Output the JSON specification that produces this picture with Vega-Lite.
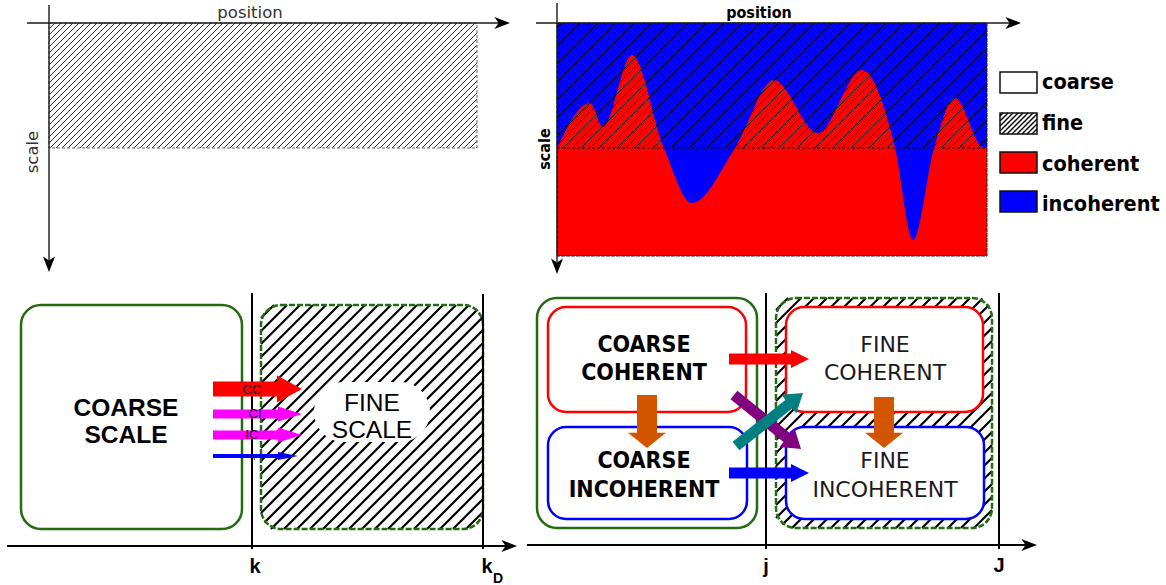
{
"$schema": "https://vega.github.io/schema/vega-lite/v6.json",
"width": 1166, "height": 585, "padding": 0, "autosize": "none",
"background": "white",
"config": {"view": {"stroke": null}},
"datasets": {
"curve": [{"x":557,"y":148},{"x":590,"y":103},{"x":603,"y":127},{"x":632,"y":55},{"x":664,"y":148},{"x":692,"y":203},{"x":735,"y":148},{"x":774,"y":80},{"x":818,"y":133},{"x":862,"y":70},{"x":895,"y":148},{"x":913,"y":240},{"x":934,"y":148},{"x":955,"y":98},{"x":984,"y":148},{"x":987,"y":148}],
"h1": [
{"x":49,"y":29,"x2":55,"y2":23},{"x":49,"y":35,"x2":61,"y2":23},{"x":49,"y":41,"x2":67,"y2":23},{"x":49,"y":47,"x2":73,"y2":23},{"x":49,"y":53,"x2":79,"y2":23},{"x":49,"y":59,"x2":85,"y2":23},{"x":49,"y":65,"x2":91,"y2":23},{"x":49,"y":71,"x2":97,"y2":23},{"x":49,"y":77,"x2":103,"y2":23},{"x":49,"y":83,"x2":109,"y2":23},{"x":49,"y":89,"x2":115,"y2":23},{"x":49,"y":95,"x2":121,"y2":23},{"x":49,"y":101,"x2":127,"y2":23},{"x":49,"y":107,"x2":133,"y2":23},{"x":49,"y":113,"x2":139,"y2":23},{"x":49,"y":119,"x2":145,"y2":23},{"x":49,"y":125,"x2":151,"y2":23},{"x":49,"y":131,"x2":157,"y2":23},{"x":49,"y":137,"x2":163,"y2":23},{"x":49,"y":143,"x2":169,"y2":23},
{"x":50,"y":148,"x2":175,"y2":23},{"x":56,"y":148,"x2":181,"y2":23},{"x":62,"y":148,"x2":187,"y2":23},{"x":68,"y":148,"x2":193,"y2":23},{"x":74,"y":148,"x2":199,"y2":23},{"x":80,"y":148,"x2":205,"y2":23},{"x":86,"y":148,"x2":211,"y2":23},{"x":92,"y":148,"x2":217,"y2":23},{"x":98,"y":148,"x2":223,"y2":23},{"x":104,"y":148,"x2":229,"y2":23},{"x":110,"y":148,"x2":235,"y2":23},{"x":116,"y":148,"x2":241,"y2":23},{"x":122,"y":148,"x2":247,"y2":23},{"x":128,"y":148,"x2":253,"y2":23},{"x":134,"y":148,"x2":259,"y2":23},{"x":140,"y":148,"x2":265,"y2":23},{"x":146,"y":148,"x2":271,"y2":23},{"x":152,"y":148,"x2":277,"y2":23},{"x":158,"y":148,"x2":283,"y2":23},{"x":164,"y":148,"x2":289,"y2":23},{"x":170,"y":148,"x2":295,"y2":23},{"x":176,"y":148,"x2":301,"y2":23},{"x":182,"y":148,"x2":307,"y2":23},{"x":188,"y":148,"x2":313,"y2":23},{"x":194,"y":148,"x2":319,"y2":23},{"x":200,"y":148,"x2":325,"y2":23},{"x":206,"y":148,"x2":331,"y2":23},{"x":212,"y":148,"x2":337,"y2":23},{"x":218,"y":148,"x2":343,"y2":23},{"x":224,"y":148,"x2":349,"y2":23},{"x":230,"y":148,"x2":355,"y2":23},{"x":236,"y":148,"x2":361,"y2":23},{"x":242,"y":148,"x2":367,"y2":23},{"x":248,"y":148,"x2":373,"y2":23},{"x":254,"y":148,"x2":379,"y2":23},{"x":260,"y":148,"x2":385,"y2":23},{"x":266,"y":148,"x2":391,"y2":23},{"x":272,"y":148,"x2":397,"y2":23},{"x":278,"y":148,"x2":403,"y2":23},{"x":284,"y":148,"x2":409,"y2":23},{"x":290,"y":148,"x2":415,"y2":23},{"x":296,"y":148,"x2":421,"y2":23},{"x":302,"y":148,"x2":427,"y2":23},{"x":308,"y":148,"x2":433,"y2":23},{"x":314,"y":148,"x2":439,"y2":23},{"x":320,"y":148,"x2":445,"y2":23},{"x":326,"y":148,"x2":451,"y2":23},{"x":332,"y":148,"x2":457,"y2":23},{"x":338,"y":148,"x2":463,"y2":23},{"x":344,"y":148,"x2":469,"y2":23},{"x":350,"y":148,"x2":475,"y2":23},
{"x":356,"y":148,"x2":477,"y2":27},{"x":362,"y":148,"x2":477,"y2":33},{"x":368,"y":148,"x2":477,"y2":39},{"x":374,"y":148,"x2":477,"y2":45},{"x":380,"y":148,"x2":477,"y2":51},{"x":386,"y":148,"x2":477,"y2":57},{"x":392,"y":148,"x2":477,"y2":63},{"x":398,"y":148,"x2":477,"y2":69},{"x":404,"y":148,"x2":477,"y2":75},{"x":410,"y":148,"x2":477,"y2":81},{"x":416,"y":148,"x2":477,"y2":87},{"x":422,"y":148,"x2":477,"y2":93},{"x":428,"y":148,"x2":477,"y2":99},{"x":434,"y":148,"x2":477,"y2":105},{"x":440,"y":148,"x2":477,"y2":111},{"x":446,"y":148,"x2":477,"y2":117},{"x":452,"y":148,"x2":477,"y2":123},{"x":458,"y":148,"x2":477,"y2":129},{"x":464,"y":148,"x2":477,"y2":135},{"x":470,"y":148,"x2":477,"y2":141},{"x":476,"y":148,"x2":477,"y2":147}],
"h2": [
{"x":557,"y":28,"x2":562,"y2":23},{"x":557,"y":37,"x2":571,"y2":23},{"x":557,"y":46,"x2":580,"y2":23},{"x":557,"y":55,"x2":589,"y2":23},{"x":557,"y":64,"x2":598,"y2":23},{"x":557,"y":73,"x2":607,"y2":23},{"x":557,"y":82,"x2":616,"y2":23},{"x":557,"y":91,"x2":625,"y2":23},{"x":557,"y":100,"x2":634,"y2":23},{"x":557,"y":109,"x2":643,"y2":23},{"x":557,"y":118,"x2":652,"y2":23},{"x":557,"y":127,"x2":661,"y2":23},{"x":557,"y":136,"x2":670,"y2":23},{"x":557,"y":145,"x2":679,"y2":23},
{"x":563,"y":148,"x2":688,"y2":23},{"x":572,"y":148,"x2":697,"y2":23},{"x":581,"y":148,"x2":706,"y2":23},{"x":590,"y":148,"x2":715,"y2":23},{"x":599,"y":148,"x2":724,"y2":23},{"x":608,"y":148,"x2":733,"y2":23},{"x":617,"y":148,"x2":742,"y2":23},{"x":626,"y":148,"x2":751,"y2":23},{"x":635,"y":148,"x2":760,"y2":23},{"x":644,"y":148,"x2":769,"y2":23},{"x":653,"y":148,"x2":778,"y2":23},{"x":662,"y":148,"x2":787,"y2":23},{"x":671,"y":148,"x2":796,"y2":23},{"x":680,"y":148,"x2":805,"y2":23},{"x":689,"y":148,"x2":814,"y2":23},{"x":698,"y":148,"x2":823,"y2":23},{"x":707,"y":148,"x2":832,"y2":23},{"x":716,"y":148,"x2":841,"y2":23},{"x":725,"y":148,"x2":850,"y2":23},{"x":734,"y":148,"x2":859,"y2":23},{"x":743,"y":148,"x2":868,"y2":23},{"x":752,"y":148,"x2":877,"y2":23},{"x":761,"y":148,"x2":886,"y2":23},{"x":770,"y":148,"x2":895,"y2":23},{"x":779,"y":148,"x2":904,"y2":23},{"x":788,"y":148,"x2":913,"y2":23},{"x":797,"y":148,"x2":922,"y2":23},{"x":806,"y":148,"x2":931,"y2":23},{"x":815,"y":148,"x2":940,"y2":23},{"x":824,"y":148,"x2":949,"y2":23},{"x":833,"y":148,"x2":958,"y2":23},{"x":842,"y":148,"x2":967,"y2":23},{"x":851,"y":148,"x2":976,"y2":23},{"x":860,"y":148,"x2":985,"y2":23},
{"x":869,"y":148,"x2":987,"y2":30},{"x":878,"y":148,"x2":987,"y2":39},{"x":887,"y":148,"x2":987,"y2":48},{"x":896,"y":148,"x2":987,"y2":57},{"x":905,"y":148,"x2":987,"y2":66},{"x":914,"y":148,"x2":987,"y2":75},{"x":923,"y":148,"x2":987,"y2":84},{"x":932,"y":148,"x2":987,"y2":93},{"x":941,"y":148,"x2":987,"y2":102},{"x":950,"y":148,"x2":987,"y2":111},{"x":959,"y":148,"x2":987,"y2":120},{"x":968,"y":148,"x2":987,"y2":129},{"x":977,"y":148,"x2":987,"y2":138},{"x":986,"y":148,"x2":987,"y2":147}],
"hl": [{"x":1000,"y":116,"x2":1003,"y2":113},{"x":1000,"y":121,"x2":1008,"y2":113},{"x":1000,"y":126,"x2":1013,"y2":113},{"x":1000,"y":131,"x2":1018,"y2":113},{"x":1002,"y":134,"x2":1023,"y2":113},{"x":1007,"y":134,"x2":1028,"y2":113},{"x":1012,"y":134,"x2":1033,"y2":113},{"x":1017,"y":134,"x2":1037,"y2":114},{"x":1022,"y":134,"x2":1037,"y2":119},{"x":1027,"y":134,"x2":1037,"y2":124},{"x":1032,"y":134,"x2":1037,"y2":129}],
"h34": [
{"x":261,"y":318,"x2":274,"y2":305},{"x":261,"y":331,"x2":287,"y2":305},{"x":261,"y":344,"x2":300,"y2":305},{"x":261,"y":357,"x2":313,"y2":305},{"x":261,"y":370,"x2":326,"y2":305},{"x":261,"y":383,"x2":339,"y2":305},{"x":261,"y":396,"x2":352,"y2":305},{"x":261,"y":409,"x2":365,"y2":305},{"x":261,"y":422,"x2":378,"y2":305},{"x":261,"y":435,"x2":391,"y2":305},{"x":261,"y":448,"x2":404,"y2":305},{"x":261,"y":461,"x2":417,"y2":305},{"x":261,"y":474,"x2":430,"y2":305},{"x":261,"y":487,"x2":443,"y2":305},{"x":261,"y":500,"x2":456,"y2":305},{"x":261,"y":513,"x2":469,"y2":305},{"x":264.5,"y":522.5,"x2":477.5,"y2":309.5},{"x":271,"y":529,"x2":483,"y2":317},{"x":284,"y":529,"x2":483,"y2":330},{"x":297,"y":529,"x2":483,"y2":343},{"x":310,"y":529,"x2":483,"y2":356},{"x":323,"y":529,"x2":483,"y2":369},{"x":336,"y":529,"x2":483,"y2":382},{"x":349,"y":529,"x2":483,"y2":395},{"x":362,"y":529,"x2":483,"y2":408},{"x":375,"y":529,"x2":483,"y2":421},{"x":388,"y":529,"x2":483,"y2":434},{"x":401,"y":529,"x2":483,"y2":447},{"x":414,"y":529,"x2":483,"y2":460},{"x":427,"y":529,"x2":483,"y2":473},{"x":440,"y":529,"x2":483,"y2":486},{"x":453,"y":529,"x2":483,"y2":499},{"x":466,"y":529,"x2":483,"y2":512},
{"x":776,"y":310,"x2":788,"y2":298},{"x":776,"y":323,"x2":801,"y2":298},{"x":776,"y":336,"x2":814,"y2":298},{"x":776,"y":349,"x2":827,"y2":298},{"x":776,"y":362,"x2":840,"y2":298},{"x":776,"y":375,"x2":853,"y2":298},{"x":776,"y":388,"x2":866,"y2":298},{"x":776,"y":401,"x2":879,"y2":298},{"x":776,"y":414,"x2":892,"y2":298},{"x":776,"y":427,"x2":905,"y2":298},{"x":776,"y":440,"x2":918,"y2":298},{"x":776,"y":453,"x2":931,"y2":298},{"x":776,"y":466,"x2":944,"y2":298},{"x":776,"y":479,"x2":957,"y2":298},{"x":776,"y":492,"x2":970,"y2":298},{"x":776,"y":505,"x2":982.5,"y2":298.5},{"x":776,"y":518,"x2":989,"y2":305},{"x":782.5,"y":524.5,"x2":992,"y2":315},{"x":792,"y":528,"x2":992,"y2":328},{"x":805,"y":528,"x2":992,"y2":341},{"x":818,"y":528,"x2":992,"y2":354},{"x":831,"y":528,"x2":992,"y2":367},{"x":844,"y":528,"x2":992,"y2":380},{"x":857,"y":528,"x2":992,"y2":393},{"x":870,"y":528,"x2":992,"y2":406},{"x":883,"y":528,"x2":992,"y2":419},{"x":896,"y":528,"x2":992,"y2":432},{"x":909,"y":528,"x2":992,"y2":445},{"x":922,"y":528,"x2":992,"y2":458},{"x":935,"y":528,"x2":992,"y2":471},{"x":948,"y":528,"x2":992,"y2":484},{"x":961,"y":528,"x2":992,"y2":497},{"x":974,"y":528,"x2":992,"y2":510}]
},
"encoding": {
"x": {"field":"x","type":"quantitative","scale":{"domain":[0,1166],"nice":false,"zero":false},"axis":null},
"y": {"field":"y","type":"quantitative","stack":null,"scale":{"domain":[0,585],"nice":false,"zero":false,"reverse":true},"axis":null}
},
"layer": [
{"data":{"values":[{"x":557,"x2":987,"y":23,"y2":256}]},"mark":{"type":"rect","color":"#0000ff"},"encoding":{"x2":{"field":"x2"},"y2":{"field":"y2"}}},
{"data":{"name":"curve"},"mark":{"type":"area","color":"#ff0000","interpolate":"monotone"},"encoding":{"y2":{"datum":256}}},
{"data":{"values":[{"x":1000,"x2":1037,"y":72,"y2":93,"k":"coarse"},{"x":1000,"x2":1037,"y":113,"y2":134,"k":"fine"},{"x":1000,"x2":1037,"y":152,"y2":173,"k":"coherent"},{"x":1000,"x2":1037,"y":191,"y2":212,"k":"incoherent"}]},"mark":{"type":"rect","stroke":"#111","strokeWidth":1.5},"encoding":{"x2":{"field":"x2"},"y2":{"field":"y2"},"fill":{"field":"k","type":"nominal","scale":{"domain":["coarse","fine","coherent","incoherent"],"range":["#ffffff","#ffffff","#ff0000","#0000ff"]},"legend":null}}},
{"data":{"name":"h1"},"mark":{"type":"rule","color":"#333333","strokeWidth":1},"encoding":{"x2":{"field":"x2"},"y2":{"field":"y2"}}},
{"data":{"name":"h2"},"mark":{"type":"rule","color":"#000000","strokeWidth":1},"encoding":{"x2":{"field":"x2"},"y2":{"field":"y2"}}},
{"data":{"name":"hl"},"mark":{"type":"rule","color":"#000000","strokeWidth":1.5},"encoding":{"x2":{"field":"x2"},"y2":{"field":"y2"}}},
{"data":{"name":"h34"},"mark":{"type":"rule","color":"#000000","strokeWidth":2.2},"encoding":{"x2":{"field":"x2"},"y2":{"field":"y2"}}},
{"data":{"values":[{"x":49,"x2":477,"y":23,"y2":148}]},"mark":{"type":"rect","filled":false,"stroke":"#666666","strokeWidth":1,"strokeDash":[3,2]},"encoding":{"x2":{"field":"x2"},"y2":{"field":"y2"}}},
{"data":{"values":[{"x":557,"x2":987,"y":23,"y2":256}]},"mark":{"type":"rect","filled":false,"stroke":"#222222","strokeWidth":1,"strokeDash":[4,1]},"encoding":{"x2":{"field":"x2"},"y2":{"field":"y2"}}},
{"data":{"values":[{"x":557,"x2":987,"y":148,"y2":148}]},"mark":{"type":"rule","color":"#111111","strokeWidth":1,"strokeDash":[3,2]},"encoding":{"x2":{"field":"x2"},"y2":{"field":"y2"}}},
{"data":{"values":[{"x":314,"x2":430,"y":382,"y2":442}]},"mark":{"type":"rect","color":"#ffffff","cornerRadius":30},"encoding":{"x2":{"field":"x2"},"y2":{"field":"y2"}}},
{"data":{"values":[{"x":21,"x2":242,"y":305,"y2":529},{"x":537,"x2":757,"y":298,"y2":528}]},"mark":{"type":"rect","filled":false,"stroke":"#226b11","strokeWidth":2.5,"cornerRadius":20},"encoding":{"x2":{"field":"x2"},"y2":{"field":"y2"}}},
{"data":{"values":[{"x":261,"x2":483,"y":305,"y2":529},{"x":776,"x2":992,"y":298,"y2":528}]},"mark":{"type":"rect","filled":false,"stroke":"#226b11","strokeWidth":2.5,"cornerRadius":20,"strokeDash":[6,2]},"encoding":{"x2":{"field":"x2"},"y2":{"field":"y2"}}},
{"data":{"values":[{"x":548,"x2":746,"y":307,"y2":412,"k":"coherent"},{"x":548,"x2":747,"y":427,"y2":519,"k":"incoherent"},{"x":786,"x2":983,"y":307,"y2":412,"k":"coherent"},{"x":786,"x2":984,"y":427,"y2":519,"k":"incoherent"}]},"mark":{"type":"rect","fill":"#ffffff","strokeWidth":2.5,"cornerRadius":18},"encoding":{"x2":{"field":"x2"},"y2":{"field":"y2"},"stroke":{"field":"k","type":"nominal","scale":{"domain":["coherent","incoherent"],"range":["#ff0000","#0000ff"]},"legend":null}}},
{"data":{"values":[{"x":27,"y":23,"x2":500,"y2":23},{"x":49,"y":5,"x2":49,"y2":262},{"x":536,"y":23,"x2":1010,"y2":23},{"x":557,"y":3,"x2":557,"y2":262}]},"mark":{"type":"rule","color":"#1a1a1a","strokeWidth":1.4},"encoding":{"x2":{"field":"x2"},"y2":{"field":"y2"}}},
{"data":{"values":[{"x":7,"y":546,"x2":507,"y2":546},{"x":527,"y":545,"x2":1026,"y2":545},{"x":252,"y":293,"x2":252,"y2":549},{"x":483,"y":294,"x2":483,"y2":549},{"x":766,"y":293,"x2":766,"y2":549},{"x":999,"y":293,"x2":999,"y2":549}]},"mark":{"type":"rule","color":"#000000","strokeWidth":2},"encoding":{"x2":{"field":"x2"},"y2":{"field":"y2"}}},
{"data":{"values":[{"x":510,"y":23},{"x":1021,"y":23},{"x":517,"y":546},{"x":1037,"y":545}]},"mark":{"type":"point","shape":"M0,0L-2.6,-1L-1.9,0L-2.6,1Z","size":144,"filled":true,"opacity":1,"strokeWidth":0,"color":"#000000"}},
{"data":{"values":[{"x":49,"y":272},{"x":557,"y":274}]},"mark":{"type":"point","shape":"M0,0L-2.6,-1L-1.9,0L-2.6,1Z","size":144,"angle":90,"filled":true,"opacity":1,"strokeWidth":0,"color":"#000000"}},
{"data":{"values":[{"x":250,"y":18,"t":"position"}]},"mark":{"type":"text","font":"DejaVu Sans","fontSize":16.5,"align":"center","baseline":"alphabetic","color":"#333333"},"encoding":{"text":{"field":"t"}}},
{"data":{"values":[{"x":38,"y":152,"t":"scale"}]},"mark":{"type":"text","font":"DejaVu Sans","fontSize":16.5,"align":"center","baseline":"alphabetic","angle":270,"color":"#333333"},"encoding":{"text":{"field":"t"}}},
{"data":{"values":[{"x":759,"y":18,"t":"position"}]},"mark":{"type":"text","font":"DejaVu Sans Condensed","fontWeight":"bold","fontSize":16,"align":"center","baseline":"alphabetic","color":"#000000"},"encoding":{"text":{"field":"t"}}},
{"data":{"values":[{"x":550,"y":149,"t":"scale"}]},"mark":{"type":"text","font":"DejaVu Sans Condensed","fontWeight":"bold","fontSize":16,"align":"center","baseline":"alphabetic","angle":270,"color":"#000000"},"encoding":{"text":{"field":"t"}}},
{"data":{"values":[{"x":1042,"y":89,"t":"coarse"},{"x":1042,"y":130,"t":"fine"},{"x":1042,"y":171,"t":"coherent"},{"x":1042,"y":211,"t":"incoherent"}]},"mark":{"type":"text","font":"DejaVu Sans Condensed","fontWeight":"bold","fontSize":21.5,"align":"left","baseline":"alphabetic","color":"#000000"},"encoding":{"text":{"field":"t"}}},
{"data":{"values":[{"x":126,"y":416,"t":"COARSE"},{"x":126,"y":443,"t":"SCALE"}]},"mark":{"type":"text","font":"Liberation Sans","fontWeight":"bold","fontSize":24.5,"align":"center","baseline":"alphabetic","color":"#000000"},"encoding":{"text":{"field":"t"}}},
{"data":{"values":[{"x":372,"y":411,"t":"FINE"},{"x":372,"y":438,"t":"SCALE"}]},"mark":{"type":"text","font":"Liberation Sans","fontSize":24.5,"align":"center","baseline":"alphabetic","color":"#000000"},"encoding":{"text":{"field":"t"}}},
{"data":{"values":[{"x":255,"y":573,"t":"k"},{"x":487,"y":573,"t":"k"},{"x":766,"y":573,"t":"j"},{"x":999,"y":572,"t":"J"}]},"mark":{"type":"text","font":"Liberation Sans","fontWeight":"bold","fontSize":20,"align":"center","baseline":"alphabetic","color":"#000000"},"encoding":{"text":{"field":"t"}}},
{"data":{"values":[{"x":493,"y":583,"t":"D"}]},"mark":{"type":"text","font":"Liberation Sans","fontWeight":"bold","fontSize":14,"align":"left","baseline":"alphabetic","color":"#000000"},"encoding":{"text":{"field":"t"}}},
{"data":{"values":[{"x":644,"y":352,"t":"COARSE"},{"x":644,"y":380,"t":"COHERENT"},{"x":644,"y":468,"t":"COARSE"},{"x":644,"y":497,"t":"INCOHERENT"}]},"mark":{"type":"text","font":"DejaVu Sans Condensed","fontWeight":"bold","fontSize":23,"align":"center","baseline":"alphabetic","color":"#000000"},"encoding":{"text":{"field":"t"}}},
{"data":{"values":[{"x":885,"y":352,"t":"FINE"},{"x":885,"y":380,"t":"COHERENT"},{"x":885,"y":468,"t":"FINE"},{"x":885,"y":497,"t":"INCOHERENT"}]},"mark":{"type":"text","font":"DejaVu Sans","fontSize":22,"align":"center","baseline":"alphabetic","color":"#1a1a1a"},"encoding":{"text":{"field":"t"}}},
{"data":{"values":[{"x":213,"y":389,"x2":279,"y2":389,"k":"cc"}]},"mark":{"type":"rule","strokeWidth":15},"encoding":{"x2":{"field":"x2"},"y2":{"field":"y2"},"color":{"field":"k","type":"nominal","scale":{"domain":["cc","ci","ii","co","in","dn","c2i","i2c"],"range":["#ff0000","#ff00ff","#0000ff","#ff0000","#0000ff","#d45500","#800080","#008080"]},"legend":null}}},
{"data":{"values":[{"x":213,"y":414,"x2":280,"y2":414,"k":"ci"},{"x":213,"y":435,"x2":280,"y2":435,"k":"ci"}]},"mark":{"type":"rule","strokeWidth":9},"encoding":{"x2":{"field":"x2"},"y2":{"field":"y2"},"color":{"field":"k","type":"nominal","scale":{"domain":["cc","ci","ii","co","in","dn","c2i","i2c"],"range":["#ff0000","#ff00ff","#0000ff","#ff0000","#0000ff","#d45500","#800080","#008080"]},"legend":null}}},
{"data":{"values":[{"x":213,"y":456,"x2":280,"y2":456,"k":"ii"}]},"mark":{"type":"rule","strokeWidth":4},"encoding":{"x2":{"field":"x2"},"y2":{"field":"y2"},"color":{"field":"k","type":"nominal","scale":{"domain":["cc","ci","ii","co","in","dn","c2i","i2c"],"range":["#ff0000","#ff00ff","#0000ff","#ff0000","#0000ff","#d45500","#800080","#008080"]},"legend":null}}},
{"data":{"values":[{"x":729,"y":359,"x2":793,"y2":359,"k":"co"},{"x":729,"y":473,"x2":793,"y2":473,"k":"in"},{"x":734,"y":395,"x2":788.5,"y2":439,"k":"c2i"},{"x":736,"y":446,"x2":790,"y2":403.3,"k":"i2c"}]},"mark":{"type":"rule","strokeWidth":11},"encoding":{"x2":{"field":"x2"},"y2":{"field":"y2"},"color":{"field":"k","type":"nominal","scale":{"domain":["cc","ci","ii","co","in","dn","c2i","i2c"],"range":["#ff0000","#ff00ff","#0000ff","#ff0000","#0000ff","#d45500","#800080","#008080"]},"legend":null}}},
{"data":{"values":[{"x":647,"y":395,"x2":647,"y2":434,"k":"dn"},{"x":884,"y":397,"x2":884,"y2":434,"k":"dn"}]},"mark":{"type":"rule","strokeWidth":20},"encoding":{"x2":{"field":"x2"},"y2":{"field":"y2"},"color":{"field":"k","type":"nominal","scale":{"domain":["cc","ci","ii","co","in","dn","c2i","i2c"],"range":["#ff0000","#ff00ff","#0000ff","#ff0000","#0000ff","#d45500","#800080","#008080"]},"legend":null}}},
{"data":{"values":[{"x":302,"y":389,"k":"cc"}]},"mark":{"type":"point","shape":"M0,0L-1.85,-1L-1.85,1Z","size":729,"filled":true,"opacity":1,"strokeWidth":0},"encoding":{"color":{"field":"k","type":"nominal","scale":{"domain":["cc","ci","ii","co","in","dn","c2i","i2c"],"range":["#ff0000","#ff00ff","#0000ff","#ff0000","#0000ff","#d45500","#800080","#008080"]},"legend":null}}},
{"data":{"values":[{"x":302,"y":414,"k":"ci"},{"x":302,"y":435,"k":"ci"}]},"mark":{"type":"point","shape":"M0,0L-3.2,-1L-3.2,1Z","size":225,"filled":true,"opacity":1,"strokeWidth":0},"encoding":{"color":{"field":"k","type":"nominal","scale":{"domain":["cc","ci","ii","co","in","dn","c2i","i2c"],"range":["#ff0000","#ff00ff","#0000ff","#ff0000","#0000ff","#d45500","#800080","#008080"]},"legend":null}}},
{"data":{"values":[{"x":298,"y":456,"k":"ii"}]},"mark":{"type":"point","shape":"M0,0L-5,-1L-5,1Z","size":64,"filled":true,"opacity":1,"strokeWidth":0},"encoding":{"color":{"field":"k","type":"nominal","scale":{"domain":["cc","ci","ii","co","in","dn","c2i","i2c"],"range":["#ff0000","#ff00ff","#0000ff","#ff0000","#0000ff","#d45500","#800080","#008080"]},"legend":null}}},
{"data":{"values":[{"x":809,"y":359,"k":"co"},{"x":809,"y":473,"k":"in"}]},"mark":{"type":"point","shape":"M0,0L-2,-1L-2,1Z","size":324,"filled":true,"opacity":1,"strokeWidth":0},"encoding":{"color":{"field":"k","type":"nominal","scale":{"domain":["cc","ci","ii","co","in","dn","c2i","i2c"],"range":["#ff0000","#ff00ff","#0000ff","#ff0000","#0000ff","#d45500","#800080","#008080"]},"legend":null}}},
{"data":{"values":[{"x":647,"y":448,"k":"dn"},{"x":884,"y":448,"k":"dn"}]},"mark":{"type":"point","shape":"M0,0L-0.8,-1L-0.8,1Z","size":1444,"angle":90,"filled":true,"opacity":1,"strokeWidth":0},"encoding":{"color":{"field":"k","type":"nominal","scale":{"domain":["cc","ci","ii","co","in","dn","c2i","i2c"],"range":["#ff0000","#ff00ff","#0000ff","#ff0000","#0000ff","#d45500","#800080","#008080"]},"legend":null}}},
{"data":{"values":[{"x":801,"y":449,"k":"c2i"}]},"mark":{"type":"point","shape":"M0,0L-1.5,-1L-1.5,1Z","size":576,"angle":38.9,"filled":true,"opacity":1,"strokeWidth":0},"encoding":{"color":{"field":"k","type":"nominal","scale":{"domain":["cc","ci","ii","co","in","dn","c2i","i2c"],"range":["#ff0000","#ff00ff","#0000ff","#ff0000","#0000ff","#d45500","#800080","#008080"]},"legend":null}}},
{"data":{"values":[{"x":803,"y":393,"k":"i2c"}]},"mark":{"type":"point","shape":"M0,0L-1.5,-1L-1.5,1Z","size":576,"angle":321.7,"filled":true,"opacity":1,"strokeWidth":0},"encoding":{"color":{"field":"k","type":"nominal","scale":{"domain":["cc","ci","ii","co","in","dn","c2i","i2c"],"range":["#ff0000","#ff00ff","#0000ff","#ff0000","#0000ff","#d45500","#800080","#008080"]},"legend":null}}},
{"data":{"values":[{"x":252,"y":390,"t":"CC"},{"x":255,"y":414,"t":"CI"},{"x":252,"y":435,"t":"IC"}]},"mark":{"type":"text","font":"Liberation Sans","fontSize":13,"align":"center","baseline":"middle","color":"#1a0010"},"encoding":{"text":{"field":"t"}}},
{"data":{"values":[{"x":253,"y":457,"t":"II"}]},"mark":{"type":"text","font":"Liberation Sans","fontSize":9,"align":"center","baseline":"middle","color":"#1a0010"},"encoding":{"text":{"field":"t"}}}
]
}
